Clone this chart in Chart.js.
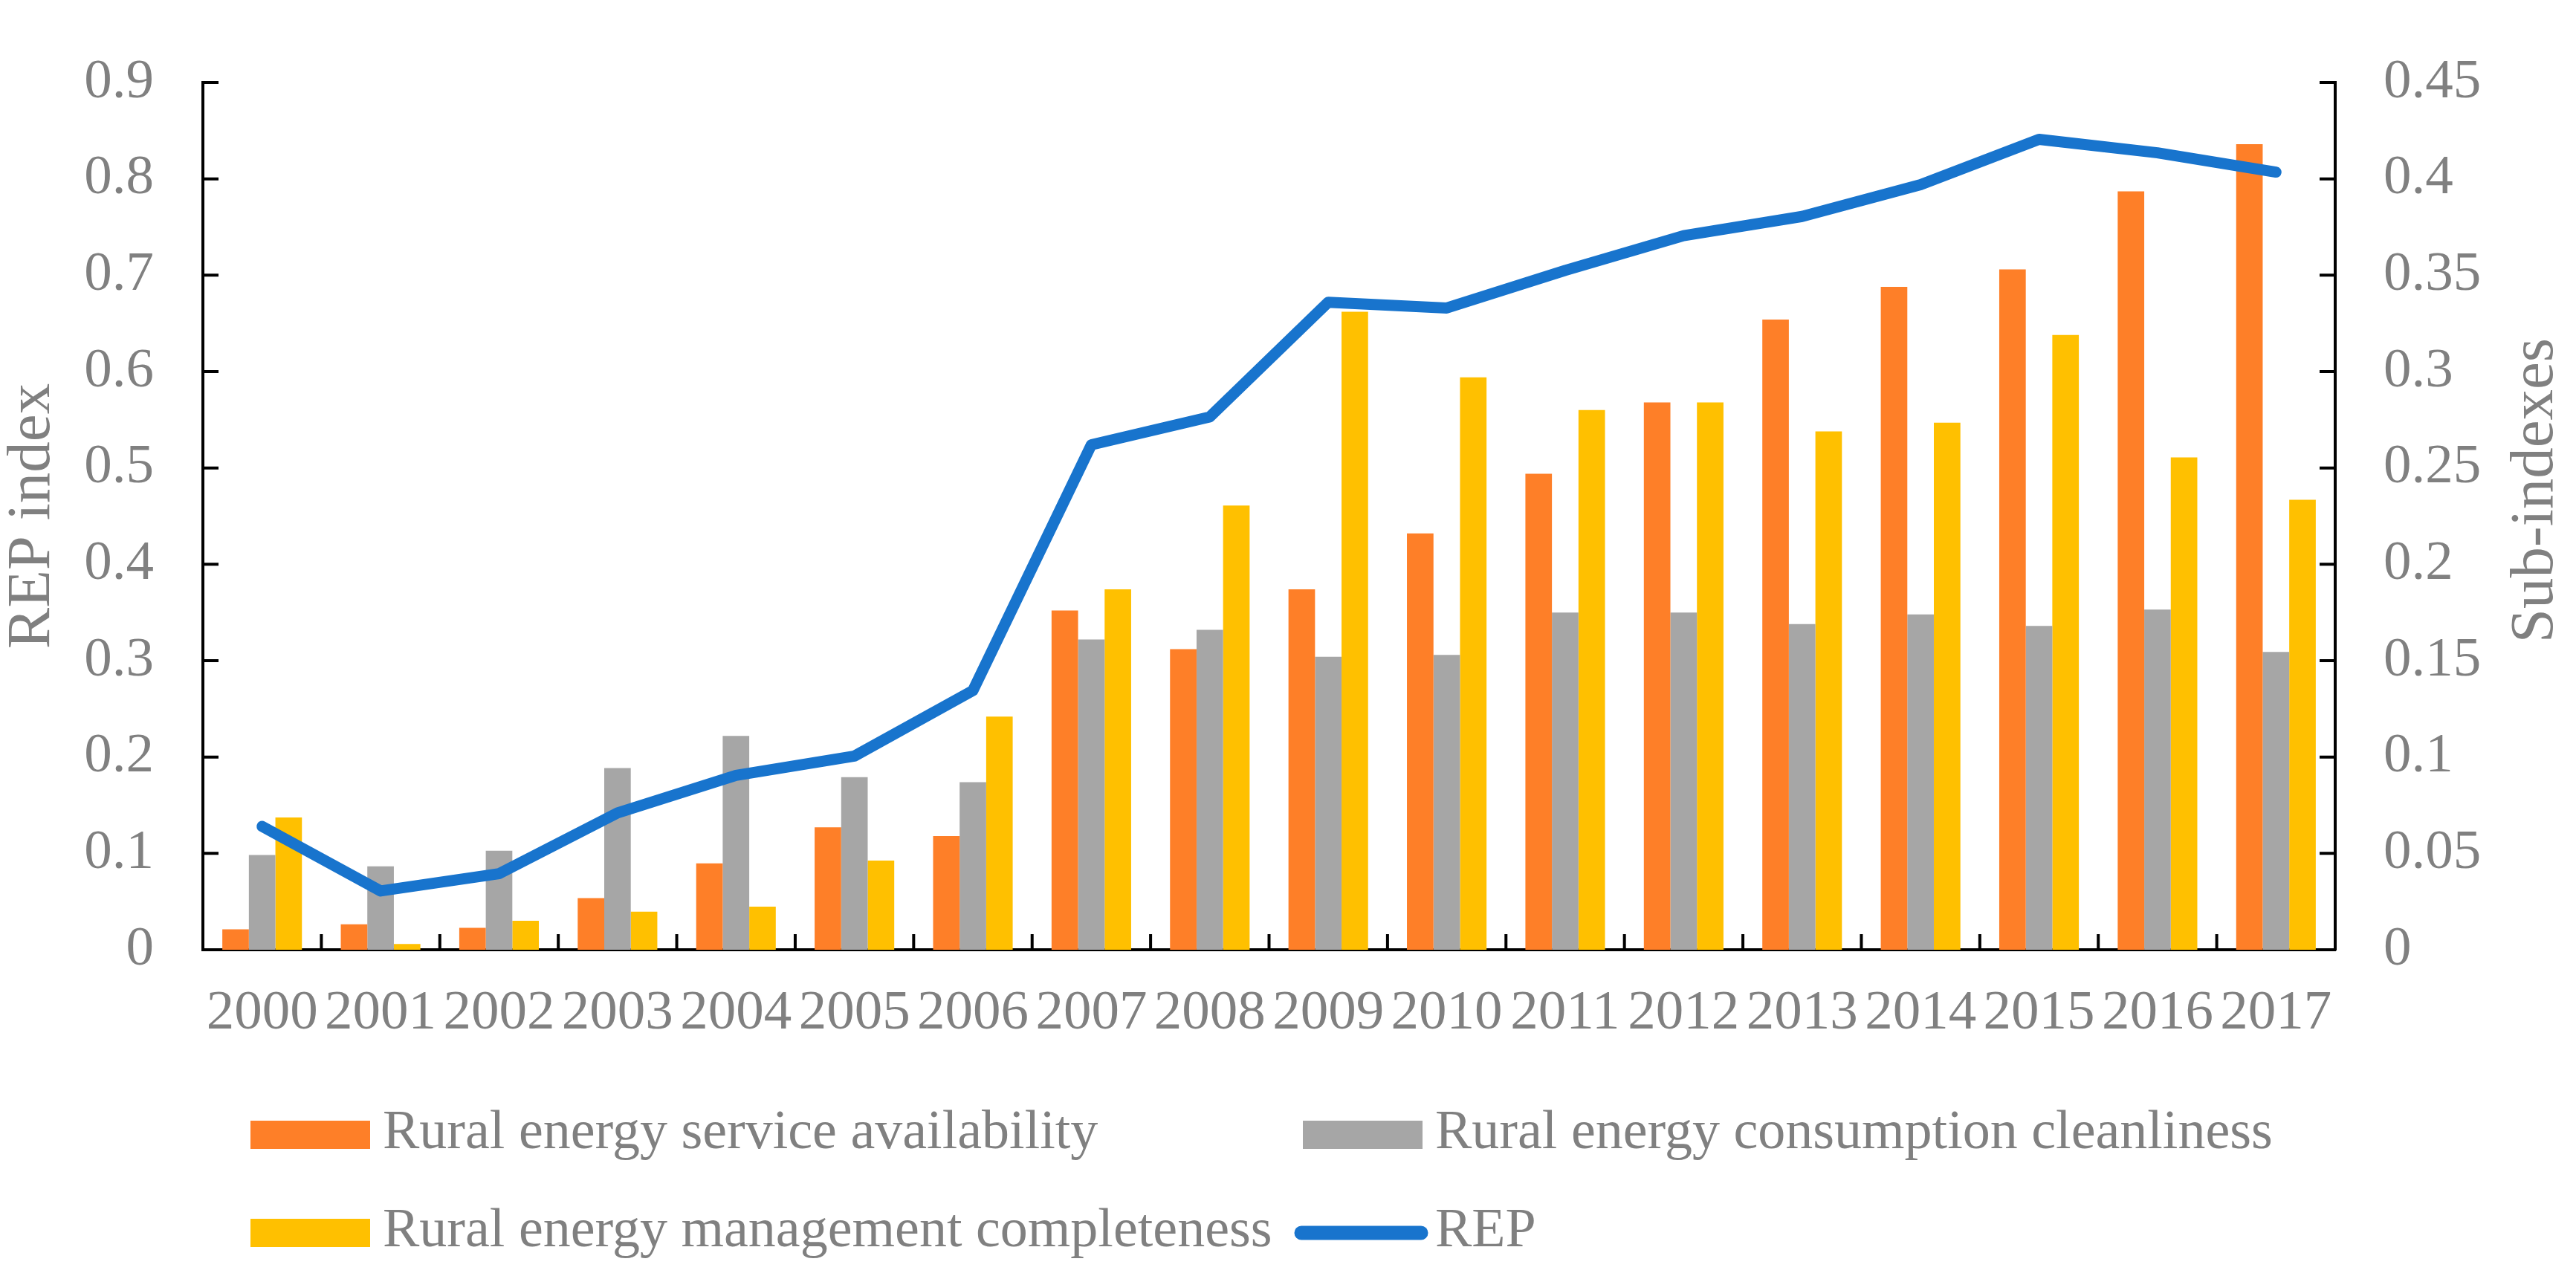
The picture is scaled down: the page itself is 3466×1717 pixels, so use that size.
<!DOCTYPE html>
<html>
<head>
<meta charset="utf-8">
<script src="https://cdn.jsdelivr.net/npm/chart.js@4"></script>
<style>
  html, body { margin: 0; padding: 0; background: #fff; }
  #wrap { width: 3466px; height: 1717px; }
</style>
</head>
<body>
<div id="wrap"><canvas id="myChart" width="3466" height="1717"></canvas></div>
<script>
'use strict';

/* DATA */

const years = ['2000', '2001', '2002', '2003', '2004', '2005', '2006', '2007', '2008',
               '2009', '2010', '2011', '2012', '2013', '2014', '2015', '2016', '2017'];
const availability = [0.0106, 0.0132, 0.0114, 0.0268, 0.0448, 0.0635, 0.059, 0.176, 0.156,
                      0.187, 0.216, 0.247, 0.284, 0.327, 0.344, 0.353, 0.3935, 0.418];
const cleanliness = [0.0492, 0.0433, 0.0514, 0.0943, 0.111, 0.0896, 0.087, 0.161, 0.166,
                     0.152, 0.153, 0.175, 0.175, 0.169, 0.174, 0.168, 0.1765, 0.1545];
const management = [0.0686, 0.003, 0.015, 0.0198, 0.0224, 0.0463, 0.121, 0.187, 0.2305,
                    0.331, 0.297, 0.280, 0.284, 0.269, 0.2735, 0.319, 0.2555, 0.2335];
const rep = [0.128, 0.061, 0.079, 0.142, 0.181, 0.201, 0.269, 0.524, 0.553,
             0.672, 0.666, 0.705, 0.741, 0.761, 0.794, 0.841, 0.827, 0.807];

const FONT = "'Liberation Serif', 'Times New Roman', serif";
const GREY = '#808080';

/* PLUGINS */

// Excel style ticks pointing into the plot
const innerTicks = {
  id: 'innerTicks',
  afterDraw(chart) {
    const ctx = chart.ctx;
    const x = chart.scales.x, y = chart.scales.y, y2 = chart.scales.y2;
    const area = chart.chartArea;
    const len = 21;
    ctx.save();
    ctx.strokeStyle = '#000';
    ctx.lineWidth = 4;
    ctx.beginPath();
    y.ticks.forEach(function(t) {
      const py = y.getPixelForValue(t.value);
      ctx.moveTo(area.left, py);
      ctx.lineTo(area.left + len, py);
    });
    y2.ticks.forEach(function(t) {
      const py = y2.getPixelForValue(t.value);
      ctx.moveTo(area.right - len, py);
      ctx.lineTo(area.right, py);
    });
    for (let i = 1; i < years.length; i++) {
      const px = (x.getPixelForTick(i - 1) + x.getPixelForTick(i)) / 2;
      ctx.moveTo(px, area.bottom);
      ctx.lineTo(px, area.bottom - len);
    }
    ctx.stroke();

    // right axis title reads bottom to top, like the left one
    ctx.fillStyle = GREY;
    ctx.font = '83px ' + FONT;
    ctx.textAlign = 'center';
    ctx.textBaseline = 'middle';
    ctx.translate(3412, 660);
    ctx.rotate(-Math.PI / 2);
    ctx.fillText('Sub-indexes', 0, 0);
    ctx.restore();
  }
};

// two column legend under the chart
const gridLegend = {
  id: 'gridLegend',
  afterDraw(chart) {
    const ctx = chart.ctx;
    const cols = [337, 1753];
    const rows = [1527, 1659];
    ctx.save();
    ctx.font = '74px ' + FONT;
    ctx.textBaseline = 'middle';
    ctx.textAlign = 'left';
    chart.data.datasets.forEach(function(ds, i) {
      const bx = cols[i % 2], by = rows[Math.floor(i / 2)];
      if (ds.type === 'line') {
        ctx.strokeStyle = ds.borderColor;
        ctx.lineWidth = 19;
        ctx.lineCap = 'round';
        ctx.beginPath();
        ctx.moveTo(bx - 2, by);
        ctx.lineTo(bx + 159, by);
        ctx.stroke();
      } else {
        ctx.fillStyle = ds.backgroundColor;
        ctx.fillRect(bx, by - 19, 161, 38);
      }
      ctx.fillStyle = GREY;
      ctx.fillText(ds.label, bx + 178, by - 1);
    });
    ctx.restore();
  }
};

/* CHART */

const tickLabel = function(v) { return String(+v.toFixed(2)); };

const ctx = document.getElementById('myChart').getContext('2d');
const chart = new Chart(ctx, {
  type: 'bar',
  data: {
    labels: years,
    datasets: [{
      label: 'Rural energy service availability',
      data: availability,
      backgroundColor: '#FE7F28',
      yAxisID: 'y2',
      order: 1
    }, {
      label: 'Rural energy consumption cleanliness',
      data: cleanliness,
      backgroundColor: '#A6A6A6',
      yAxisID: 'y2',
      order: 1
    }, {
      label: 'Rural energy management completeness',
      data: management,
      backgroundColor: '#FFC000',
      yAxisID: 'y2',
      order: 1
    }, {
      type: 'line',
      label: 'REP',
      data: rep,
      borderColor: '#1874CD',
      backgroundColor: '#1874CD',
      borderWidth: 15,
      borderCapStyle: 'round',
      borderJoinStyle: 'round',
      pointRadius: 0,
      tension: 0,
      yAxisID: 'y',
      order: 0
    }]
  },
  options: {
    responsive: false,
    devicePixelRatio: 1,
    animation: false,
    events: [],
    layout: { padding: { top: 52, bottom: 309, left: 0, right: 0 } },
    datasets: {
      bar: { categoryPercentage: 0.672, barPercentage: 1, borderWidth: 0 }
    },
    plugins: {
      legend: { display: false },
      tooltip: { enabled: false }
    },
    scales: {
      x: {
        grid: { display: false, drawTicks: false },
        border: { display: true, color: '#000', width: 4 },
        ticks: { color: GREY, font: { family: FONT, size: 75 }, padding: 41, maxRotation: 0, autoSkip: false },
        afterFit: function(scale) { scale.height = 130; }
      },
      y: {
        position: 'left',
        min: 0,
        max: 0.9,
        grid: { display: false, drawTicks: false },
        border: { display: true, color: '#000', width: 4 },
        ticks: { stepSize: 0.1, color: GREY, font: { family: FONT, size: 75 }, padding: 66, callback: tickLabel },
        title: { display: true, text: 'REP index', color: GREY, font: { family: FONT, size: 83, lineHeight: 1.06 }, padding: 0 },
        afterFit: function(scale) { scale.width = 273; }
      },
      y2: {
        position: 'right',
        min: 0,
        max: 0.45,
        grid: { display: false, drawTicks: false },
        border: { display: true, color: '#000', width: 4 },
        ticks: { stepSize: 0.05, color: GREY, font: { family: FONT, size: 75 }, padding: 65, callback: tickLabel },
        afterFit: function(scale) { scale.width = 324; }
      }
    }
  },
  plugins: [innerTicks, gridLegend]
});
</script>
</body>
</html>
